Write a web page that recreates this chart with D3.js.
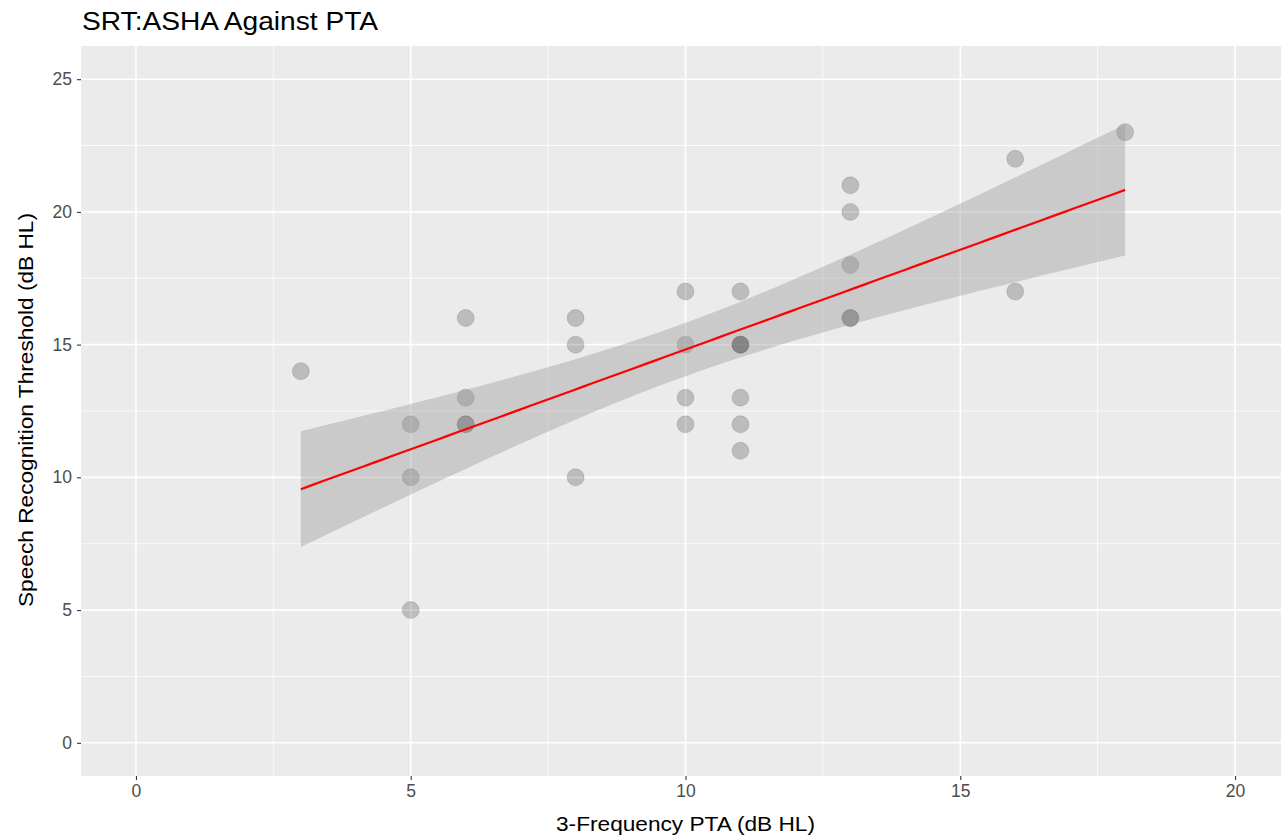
<!DOCTYPE html>
<html><head><meta charset="utf-8">
<script src="https://cdn.jsdelivr.net/npm/d3@7/dist/d3.min.js"></script>
<style>html,body{margin:0;padding:0;background:#fff;overflow:hidden}</style>
</head><body><svg id="c" width="1281" height="838"></svg>
<script>
// Data (PTA in dB HL, SRT in dB HL)
const pta = [3, 5,5,5, 6,6,6,6, 8,8,8, 10,10,10,10, 11,11,11,11,11,11,11, 13,13,13,13,13, 16,16, 18];
const srt = [14, 12,10,5, 16,13,12,12, 16,15,10, 17,15,13,12, 17,15,15,15,13,12,11, 21,20,18,16,16, 22,17, 23];
const xTicks = [0, 5, 10, 15, 20];
const yTicks = [0, 5, 10, 15, 20, 25];
const xMinor = [2.5, 7.5, 12.5, 17.5];
const yMinor = [2.5, 7.5, 12.5, 17.5, 22.5];

const svg = d3.select("#c");
const L = 81, R = 1290, T = 46, B = 776;
const x = d3.scaleLinear().domain([-1, 21]).range([L, R]);
const y = d3.scaleLinear().domain([-1.25, 26.25]).range([B, T]);
const font = "Liberation Sans, Arial, sans-serif";

svg.append("rect").attr("x", L).attr("y", T).attr("width", R - L).attr("height", B - T).attr("fill", "#ebebeb");
const g = svg.append("g");
g.selectAll(".xmin").data(xMinor).join("line").attr("x1", d => x(d)).attr("x2", d => x(d)).attr("y1", T).attr("y2", B).attr("stroke", "#fff").attr("stroke-width", 0.8);
g.selectAll(".ymin").data(yMinor).join("line").attr("y1", d => y(d)).attr("y2", d => y(d)).attr("x1", L).attr("x2", R).attr("stroke", "#fff").attr("stroke-width", 0.8);
g.selectAll(".xmaj").data(xTicks).join("line").attr("x1", d => x(d)).attr("x2", d => x(d)).attr("y1", T).attr("y2", B).attr("stroke", "#fff").attr("stroke-width", 1.6);
g.selectAll(".ymaj").data(yTicks).join("line").attr("y1", d => y(d)).attr("y2", d => y(d)).attr("x1", L).attr("x2", R).attr("stroke", "#fff").attr("stroke-width", 1.6);

// points
svg.append("g").selectAll("circle").data(pta.map((v, i) => [v, srt[i]])).join("circle")
  .attr("cx", d => x(d[0])).attr("cy", d => y(d[1])).attr("r", 8.5)
  .attr("fill", "#000").attr("fill-opacity", 0.2)
  .attr("stroke", "#000").attr("stroke-opacity", 0.12).attr("stroke-width", 1);

// linear fit with 95% confidence band (as geom_smooth(method = "lm"))
const n = pta.length;
const mx = d3.mean(pta), my = d3.mean(srt);
let sxx = 0, sxy = 0;
for (let i = 0; i < n; i++) { sxx += (pta[i] - mx) ** 2; sxy += (pta[i] - mx) * (srt[i] - my); }
const b1 = sxy / sxx, b0 = my - b1 * mx;
let sse = 0;
for (let i = 0; i < n; i++) sse += (srt[i] - b0 - b1 * pta[i]) ** 2;
const s = Math.sqrt(sse / (n - 2));
const tq = 2.0484; // t(0.975, df = 28)
const xs = d3.range(80).map(i => d3.min(pta) + (d3.max(pta) - d3.min(pta)) * i / 79);
const fit = xs.map(v => {
  const f = b0 + b1 * v;
  const se = s * Math.sqrt(1 / n + (v - mx) ** 2 / sxx);
  return { x: v, f, lo: f - tq * se, hi: f + tq * se };
});
svg.append("path").datum(fit)
  .attr("d", d3.area().x(d => x(d.x)).y0(d => y(d.lo)).y1(d => y(d.hi)))
  .attr("fill", "#999999").attr("fill-opacity", 0.4);
svg.append("path").datum(fit)
  .attr("d", d3.line().x(d => x(d.x)).y(d => y(d.f)))
  .attr("fill", "none").attr("stroke", "#ff0000").attr("stroke-width", 2.2);

// axes
const xa = svg.append("g").attr("transform", `translate(0,${B})`)
  .call(d3.axisBottom(x).tickValues(xTicks).tickSize(4).tickPadding(5).tickFormat(d3.format("d")));
const ya = svg.append("g").attr("transform", `translate(${L},0)`)
  .call(d3.axisLeft(y).tickValues(yTicks).tickSize(4).tickPadding(5).tickFormat(d3.format("d")));
[xa, ya].forEach(a => {
  a.select(".domain").remove();
  a.selectAll("line").attr("stroke", "#333").attr("stroke-width", 1.1);
  a.selectAll("text").attr("fill", "#4d4d4d").style("font-family", font).style("font-size", "17.5px");
});

svg.append("text").attr("x", L + 1).attr("y", 30).text("SRT:ASHA Against PTA")
  .attr("textLength", 296).attr("lengthAdjust", "spacingAndGlyphs")
  .style("font-family", font).style("font-size", "25px").attr("fill", "#000");
svg.append("text").attr("x", x(10)).attr("y", 831).attr("text-anchor", "middle")
  .attr("textLength", 259).attr("lengthAdjust", "spacingAndGlyphs")
  .text("3-Frequency PTA (dB HL)").style("font-family", font).style("font-size", "21px").attr("fill", "#000");
svg.append("text").attr("transform", `translate(33,410) rotate(-90)`).attr("text-anchor", "middle")
  .attr("textLength", 394).attr("lengthAdjust", "spacingAndGlyphs")
  .text("Speech Recognition Threshold (dB HL)").style("font-family", font).style("font-size", "21px").attr("fill", "#000");
</script></body></html>
